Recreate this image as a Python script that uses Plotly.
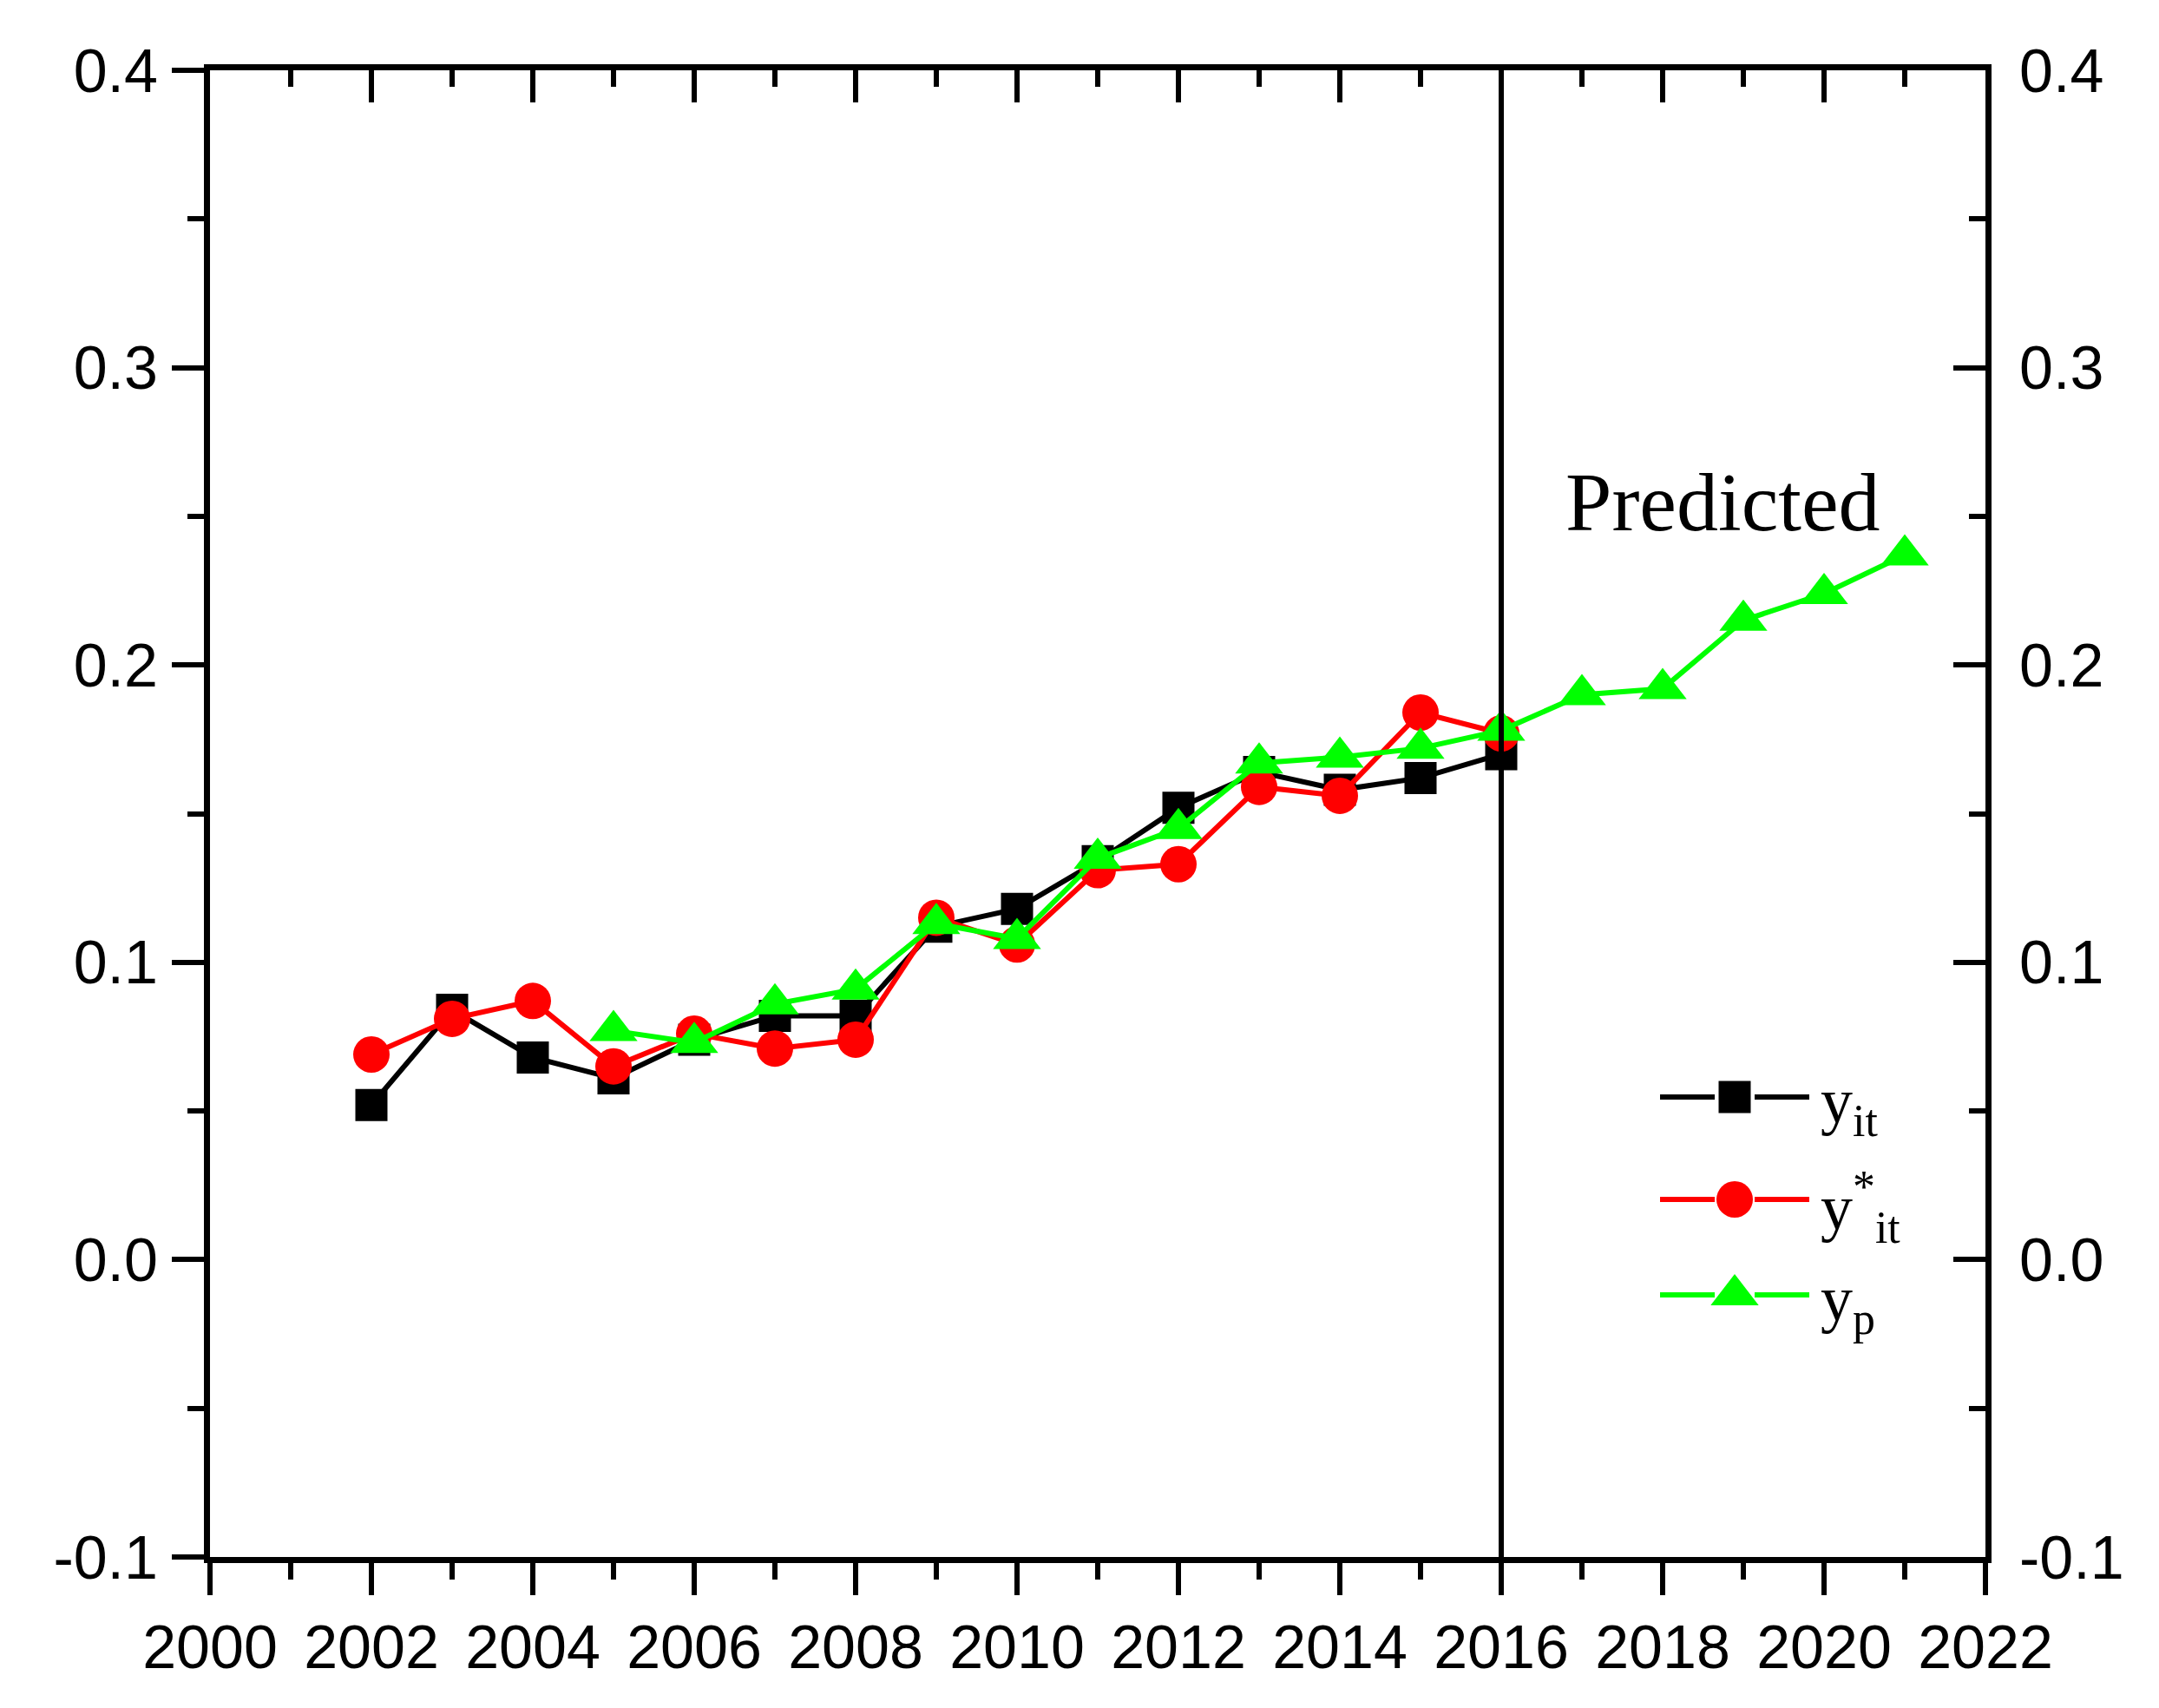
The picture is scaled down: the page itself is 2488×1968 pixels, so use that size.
import plotly.graph_objects as go

# ---- data ----
years_obs = [2002, 2003, 2004, 2005, 2006, 2007, 2008, 2009, 2010, 2011, 2012, 2013, 2014, 2015, 2016]
y_it = [0.052, 0.084, 0.068, 0.061, 0.074, 0.082, 0.082, 0.112, 0.118, 0.134, 0.152, 0.164, 0.158, 0.162, 0.170]
y_star_it = [0.069, 0.081, 0.087, 0.065, 0.076, 0.071, 0.074, 0.115, 0.106, 0.131, 0.133, 0.159, 0.156, 0.184, 0.177]

years_pred = [2005, 2006, 2007, 2008, 2009, 2010, 2011, 2012, 2013, 2014, 2015, 2016, 2017, 2018, 2019, 2020, 2021]
y_p = [0.077, 0.073, 0.086, 0.091, 0.113, 0.108, 0.135, 0.145, 0.167, 0.169, 0.172, 0.178, 0.190, 0.192, 0.215, 0.224, 0.237]

series_names = ["y<sub>it</sub>", "y<sup>*</sup><sub>it</sub>", "y<sub>p</sub>"]

x_ticks = [2000, 2002, 2004, 2006, 2008, 2010, 2012, 2014, 2016, 2018, 2020, 2022]
y_ticks = [-0.1, 0.0, 0.1, 0.2, 0.3, 0.4]
y_ticktext = ["-0.1", "0.0", "0.1", "0.2", "0.3", "0.4"]

split_year = 2016
x_range = [2000, 2022]
y_range = [-0.1, 0.4]

# ---- styling / layout ----
PAGE_OFFSET = 8          # default body margin of the html page
W, H = 2480, 1960
L, R, T, B = 234, 200, 73, 174
plot_w, plot_h = W - L - R, H - T - B

colors = ["#000000", "#FF0000", "#00FF00"]
symbols = ["square", "circle", "triangle-up"]
sizes = [37, 42, 48]
LW = 6

tick_font = dict(family="Liberation Sans, Arial, sans-serif", size=70, color="black")
serif = "Liberation Serif, Times New Roman, serif"


def px_to_paper_x(px):
    return (px - PAGE_OFFSET - L) / plot_w


def px_to_paper_y(py):
    return (H - B - (py - PAGE_OFFSET)) / plot_h


fig = go.Figure()

series = [(years_obs, y_it), (years_obs, y_star_it), (years_pred, y_p)]
for (xs, ys), name, c, s, sz in zip(series, series_names, colors, symbols, sizes):
    fig.add_trace(go.Scatter(
        x=xs, y=ys, mode="lines+markers", name=name, showlegend=False,
        line=dict(color=c, width=LW),
        marker=dict(symbol=s, size=sz, color=c),
    ))

# mirrored (top/right) axes anchor trace
fig.add_trace(go.Scatter(x=[None], y=[None], xaxis="x2", yaxis="y2",
                         showlegend=False, hoverinfo="skip"))

# ---- hand-drawn legend (Origin style: long line, big marker) ----
leg_line_left = [1913, 1976]
leg_line_right = [2022, 2085]
leg_marker_x = 1999
leg_rows_y = [1264, 1382, 1492]
leg_text_x = 2096

shapes = [dict(type="line", xref="x", yref="paper", x0=split_year, x1=split_year,
               y0=0, y1=1, line=dict(color="black", width=LW))]
annotations = [dict(text="Predicted", xref="x", yref="y", x=2018.75, y=0.2547,
                    showarrow=False, xanchor="center", yanchor="middle",
                    font=dict(family=serif, size=96, color="black"))]

leg_mx, leg_my = [], []
for ry, name, c in zip(leg_rows_y, series_names, colors):
    for seg in (leg_line_left, leg_line_right):
        shapes.append(dict(type="line", xref="paper", yref="paper",
                           x0=px_to_paper_x(seg[0]), x1=px_to_paper_x(seg[1]),
                           y0=px_to_paper_y(ry), y1=px_to_paper_y(ry),
                           line=dict(color=c, width=LW)))
    leg_mx.append(px_to_paper_x(leg_marker_x))
    leg_my.append(px_to_paper_y(ry))
    annotations.append(dict(text=name, xref="paper", yref="paper",
                            x=px_to_paper_x(leg_text_x), y=px_to_paper_y(ry + 9),
                            xanchor="left", yanchor="middle", showarrow=False,
                            font=dict(family=serif, size=74, color="black")))

for mx, my, c, s, sz in zip(leg_mx, leg_my, colors, symbols, sizes):
    fig.add_trace(go.Scatter(x=[mx], y=[my], xaxis="x3", yaxis="y3", mode="markers",
                             marker=dict(symbol=s, size=sz, color=c),
                             showlegend=False, hoverinfo="skip", cliponaxis=False))

axis_common = dict(showgrid=False, zeroline=False, showline=True,
                   linecolor="black", linewidth=7, tickcolor="black",
                   tickwidth=6)
minor_common = dict(tickwidth=6, tickcolor="black", ticklen=19)

fig.update_layout(
    width=W, height=H,
    margin=dict(l=L, r=R, t=T, b=B),
    paper_bgcolor="white", plot_bgcolor="white",
    showlegend=False,
    xaxis=dict(range=x_range, tickvals=x_ticks, ticktext=[str(v) for v in x_ticks],
               ticks="outside", ticklen=37,
               minor=dict(dtick=1, tick0=2000, ticks="outside", **minor_common),
               tickfont=tick_font, ticklabelstandoff=0, **axis_common),
    xaxis2=dict(range=x_range, overlaying="x", side="top", anchor="y",
                tickvals=x_ticks, ticks="inside", ticklen=37, showticklabels=False,
                minor=dict(dtick=1, tick0=2000, ticks="inside", **minor_common),
                **axis_common),
    yaxis=dict(range=y_range, tickvals=y_ticks, ticktext=y_ticktext,
               ticks="outside", ticklen=37,
               minor=dict(dtick=0.05, tick0=-0.1, ticks="outside", **minor_common),
               tickfont=tick_font, ticklabelstandoff=2, **axis_common),
    yaxis2=dict(range=y_range, overlaying="y", side="right", anchor="x",
                tickvals=y_ticks, ticktext=y_ticktext, ticks="inside", ticklen=37,
                minor=dict(dtick=0.05, tick0=-0.1, ticks="inside", **minor_common),
                tickfont=tick_font, ticklabelstandoff=18, showticklabels=True,
                **axis_common),
    xaxis3=dict(range=[0, 1], overlaying="x", anchor="y3", visible=False, fixedrange=True),
    yaxis3=dict(range=[0, 1], overlaying="y", anchor="x3", visible=False, fixedrange=True),
    shapes=shapes,
    annotations=annotations,
)

fig.write_html("out.html")
